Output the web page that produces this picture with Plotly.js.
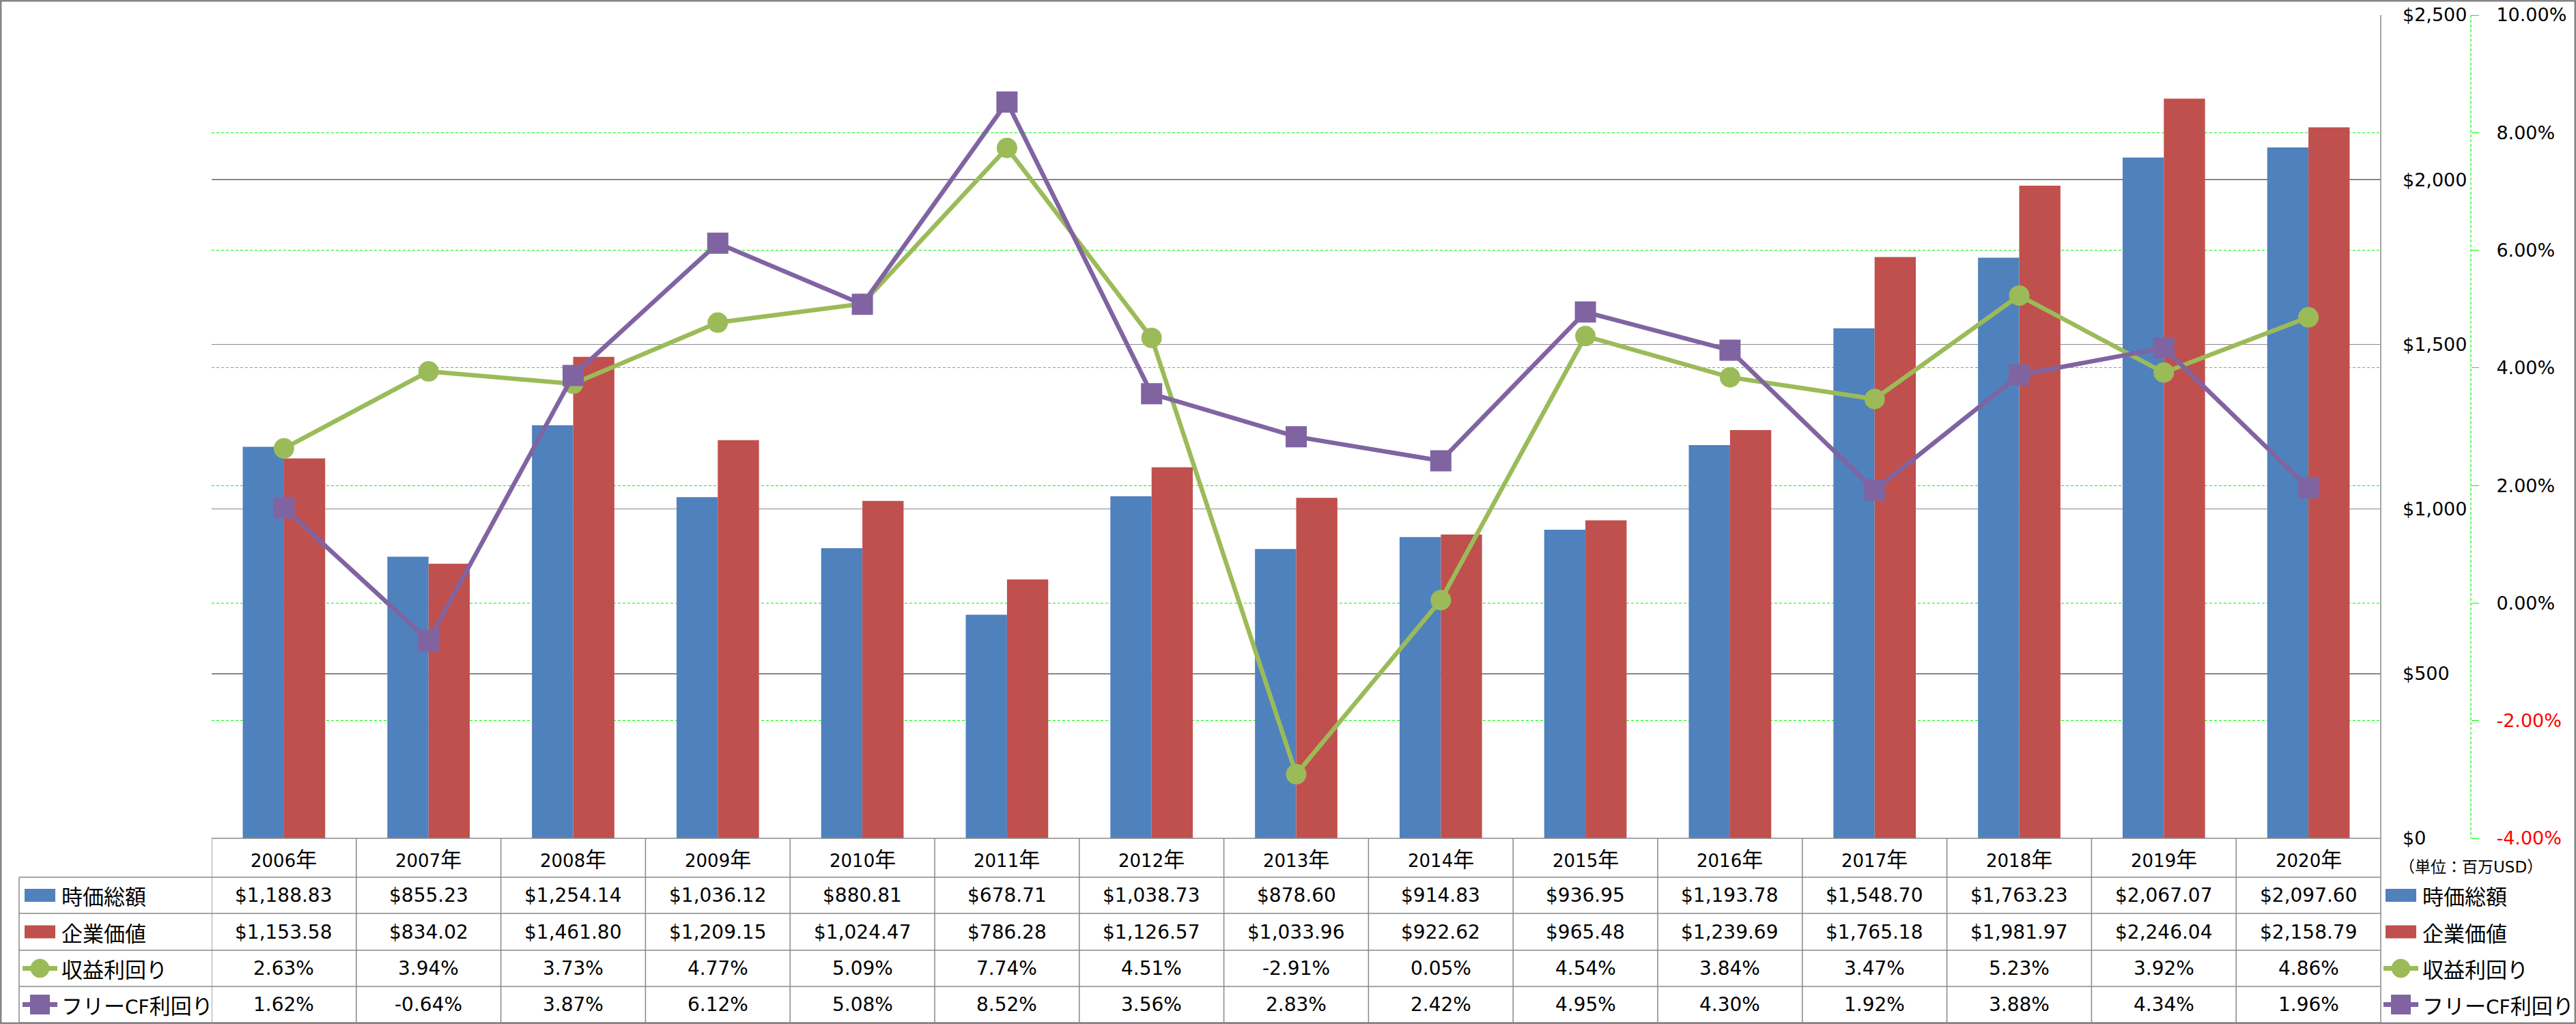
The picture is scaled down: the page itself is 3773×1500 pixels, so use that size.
<!DOCTYPE html>
<html>
<head>
<meta charset="utf-8">
<script src="https://cdn.plot.ly/plotly-3.0.1.min.js"></script>
<style>html,body{margin:0;padding:0;background:#fff;overflow:hidden}</style>
</head>
<body>
<div id="chart" style="width:3773px;height:1500px"></div>
<script>
// ---------------- data ----------------
const years = ['2006年','2007年','2008年','2009年','2010年','2011年','2012年','2013年','2014年','2015年','2016年','2017年','2018年','2019年','2020年'];
const marketCap = [1188.83, 855.23, 1254.14, 1036.12, 880.81, 678.71, 1038.73, 878.60, 914.83, 936.95, 1193.78, 1548.70, 1763.23, 2067.07, 2097.60];
const enterpriseValue = [1153.58, 834.02, 1461.80, 1209.15, 1024.47, 786.28, 1126.57, 1033.96, 922.62, 965.48, 1239.69, 1765.18, 1981.97, 2246.04, 2158.79];
const earningsYield = [2.63, 3.94, 3.73, 4.77, 5.09, 7.74, 4.51, -2.91, 0.05, 4.54, 3.84, 3.47, 5.23, 3.92, 4.86];
const fcfYield = [1.62, -0.64, 3.87, 6.12, 5.08, 8.52, 3.56, 2.83, 2.42, 4.95, 4.30, 1.92, 3.88, 4.34, 1.96];
const seriesNames = ['時価総額', '企業価値', '収益利回り', 'フリーCF利回り'];
const dollarTicks = [0, 500, 1000, 1500, 2000, 2500];
const pctTicks = [-4, -2, 0, 2, 4, 6, 8, 10];
const unitNote = '（単位：百万USD）';

// ---------------- style / geometry ----------------
const W = 3773, H = 1500;
const plotL = 310, plotR = 3487, plotT = 22, plotB = 1228;
const rowEdges = [1228, 1285, 1338, 1392, 1445, 1498];
const labelColL = 28;
const pctAxisX = 3619;
const colors = ['#4F81BD', '#C0504D', '#9BBB59', '#8064A2'];
const gridGray = '#888888';
const green = '#00FF00';
const FONT = 'DejaVu Sans, Noto Sans CJK JP, sans-serif';
const fx = x => x / W;
const fy = y => 1 - y / H;

function cjk(s, size) {
  return s.replace(/([\u3000-\u30ff\u3400-\u9fff\uff00-\uffef]+)/g,
    '<span style="font-family:Noto Sans CJK JP;font-size:' + size + 'px">$1</span>');
}
const money = v => '$' + v.toLocaleString('en-US', {minimumFractionDigits: 2, maximumFractionDigits: 2});
const pct = v => v.toFixed(2) + '%';

// ---------------- traces ----------------
const traces = [
  {type: 'bar', x: years, y: marketCap, name: seriesNames[0], marker: {color: colors[0], line: {width: 0}}, yaxis: 'y'},
  {type: 'bar', x: years, y: enterpriseValue, name: seriesNames[1], marker: {color: colors[1], line: {width: 0}}, yaxis: 'y'},
  {type: 'scatter', mode: 'lines+markers', x: years, y: earningsYield, name: seriesNames[2], yaxis: 'y2',
   line: {color: colors[2], width: 6.5}, marker: {symbol: 'circle', size: 30, color: colors[2]}},
  {type: 'scatter', mode: 'lines+markers', x: years, y: fcfYield, name: seriesNames[3], yaxis: 'y2',
   line: {color: colors[3], width: 6.5}, marker: {symbol: 'square', size: 29, color: colors[3], line: {color: colors[3], width: 2}}}
];

// ---------------- shapes ----------------
const shapes = [];
const hline = (x0, x1, y, opts) => shapes.push(Object.assign({type: 'line', xref: 'paper', yref: 'paper', x0: fx(x0), x1: fx(x1), y0: fy(y), y1: fy(y), line: {color: gridGray, width: 1.5}}, opts || {}));
const vline = (x, y0, y1, opts) => shapes.push(Object.assign({type: 'line', xref: 'paper', yref: 'paper', x0: fx(x), x1: fx(x), y0: fy(y0), y1: fy(y1), line: {color: gridGray, width: 1.5}}, opts || {}));

// outer border
shapes.push({type: 'rect', xref: 'paper', yref: 'paper', x0: 0, x1: 1, y0: 0, y1: 1, line: {color: '#858585', width: 5}});
// right plot border / table right edge
vline(plotR, plotT, rowEdges[5]);
// dashed secondary axis line
vline(pctAxisX, plotT, plotB, {line: {color: green, width: 1.2, dash: '4px,3px'}});
// table horizontal lines
hline(plotL, plotR, rowEdges[0]);
for (let r = 1; r < rowEdges.length; r++) hline(labelColL, plotR, rowEdges[r]);
// table vertical lines (column boundaries from the category axis)
for (let i = 0; i < years.length; i++) {
  shapes.push({type: 'line', xref: 'x', yref: 'paper', x0: i - 0.5, x1: i - 0.5, y0: fy(rowEdges[0]), y1: fy(rowEdges[5]), line: {color: gridGray, width: 1.5}});
}
vline(labelColL, rowEdges[1], rowEdges[5]);

function rowCenter(r) { return (rowEdges[r] + rowEdges[r + 1]) / 2; }

function addKey(x0, yc, idx) {
  const c = colors[idx];
  if (idx < 2) {
    shapes.push({type: 'rect', xref: 'paper', yref: 'paper', x0: fx(x0), x1: fx(x0 + 45), y0: fy(yc + 9.5), y1: fy(yc - 9.5), fillcolor: c, line: {width: 0}});
  } else {
    shapes.push({type: 'line', xref: 'paper', yref: 'paper', x0: fx(x0 - 3), x1: fx(x0 + 48), y0: fy(yc), y1: fy(yc), line: {color: c, width: 7}});
    const cx = x0 + 22.5;
    if (idx === 2) {
      shapes.push({type: 'circle', xref: 'paper', yref: 'paper', x0: fx(cx - 13.5), x1: fx(cx + 13.5), y0: fy(yc + 13.5), y1: fy(yc - 13.5), fillcolor: c, line: {color: c, width: 1}});
    } else {
      shapes.push({type: 'rect', xref: 'paper', yref: 'paper', x0: fx(cx - 14), x1: fx(cx + 14), y0: fy(yc + 14), y1: fy(yc - 14), fillcolor: c, line: {color: c, width: 1}});
    }
  }
}

// ---------------- annotations ----------------
const annotations = [];
const ann = (o) => annotations.push(Object.assign({showarrow: false, xanchor: 'center', yanchor: 'middle', font: {family: FONT, size: 28, color: '#000'}}, o));

// header row: years
years.forEach((yr, i) => ann({xref: 'x', yref: 'paper', x: i, y: fy(rowCenter(0)), text: cjk(yr, 31), font: {family: FONT, size: 26, color: '#000'}}));
// value rows
const rows = [marketCap.map(money), enterpriseValue.map(money), earningsYield.map(pct), fcfYield.map(pct)];
rows.forEach((vals, r) => {
  vals.forEach((t, i) => ann({xref: 'x', yref: 'paper', x: i, y: fy(rowCenter(r + 1)), text: t}));
  // table row label with key
  addKey(36, rowCenter(r + 1), r);
  ann({xref: 'paper', yref: 'paper', x: fx(88), xanchor: 'left', y: fy(rowCenter(r + 1)), text: cjk(seriesNames[r], 31)});
  // right-hand legend
  addKey(3494, rowCenter(r + 1), r);
  ann({xref: 'paper', yref: 'paper', x: fx(3546), xanchor: 'left', y: fy(rowCenter(r + 1)), text: cjk(seriesNames[r], 31)});
});
// unit note
ann({xref: 'paper', yref: 'paper', x: fx(3619), y: fy(1268), text: cjk(unitNote, 23), font: {family: FONT, size: 23, color: '#000'}});

// ---------------- layout ----------------
const layout = {
  width: W, height: H,
  margin: {l: 0, r: 0, t: 0, b: 0, pad: 0},
  paper_bgcolor: '#fff', plot_bgcolor: 'rgba(0,0,0,0)',
  showlegend: false,
  barmode: 'group', bargap: 0.43, bargroupgap: 0,
  xaxis: {domain: [fx(plotL), fx(plotR)], type: 'category', range: [-0.5, years.length - 0.5],
          showticklabels: false, ticks: '', showgrid: false, zeroline: false, showline: false, fixedrange: true},
  yaxis: {domain: [fy(plotB), fy(plotT)], range: [0, 2500], side: 'right', anchor: 'x',
          tickmode: 'array', tickvals: dollarTicks, ticktext: dollarTicks.map(v => '$' + v.toLocaleString('en-US')),
          ticks: '', ticklabelstandoff: 31, showgrid: true, gridcolor: gridGray, gridwidth: 1.5,
          zeroline: false, showline: false, tickfont: {family: FONT, size: 27, color: '#000'}, fixedrange: true},
  yaxis2: {overlaying: 'y', side: 'right', anchor: 'free', position: fx(pctAxisX), range: [-4, 10],
           tickmode: 'array', tickvals: pctTicks,
           ticktext: pctTicks.map(v => v < 0 ? '<span style="color:#FF0000">' + pct(v) + '</span>' : pct(v)),
           ticks: 'outside', ticklen: 11, tickwidth: 1, tickcolor: green, ticklabelstandoff: 20,
           showgrid: true, gridcolor: green, gridwidth: 1.2, griddash: '4px,3px',
           zeroline: false, showline: false, tickfont: {family: FONT, size: 27, color: '#000'}, fixedrange: true},
  shapes: shapes,
  annotations: annotations
};

Plotly.newPlot('chart', traces, layout, {displayModeBar: false, staticPlot: true});
</script>
</body>
</html>
